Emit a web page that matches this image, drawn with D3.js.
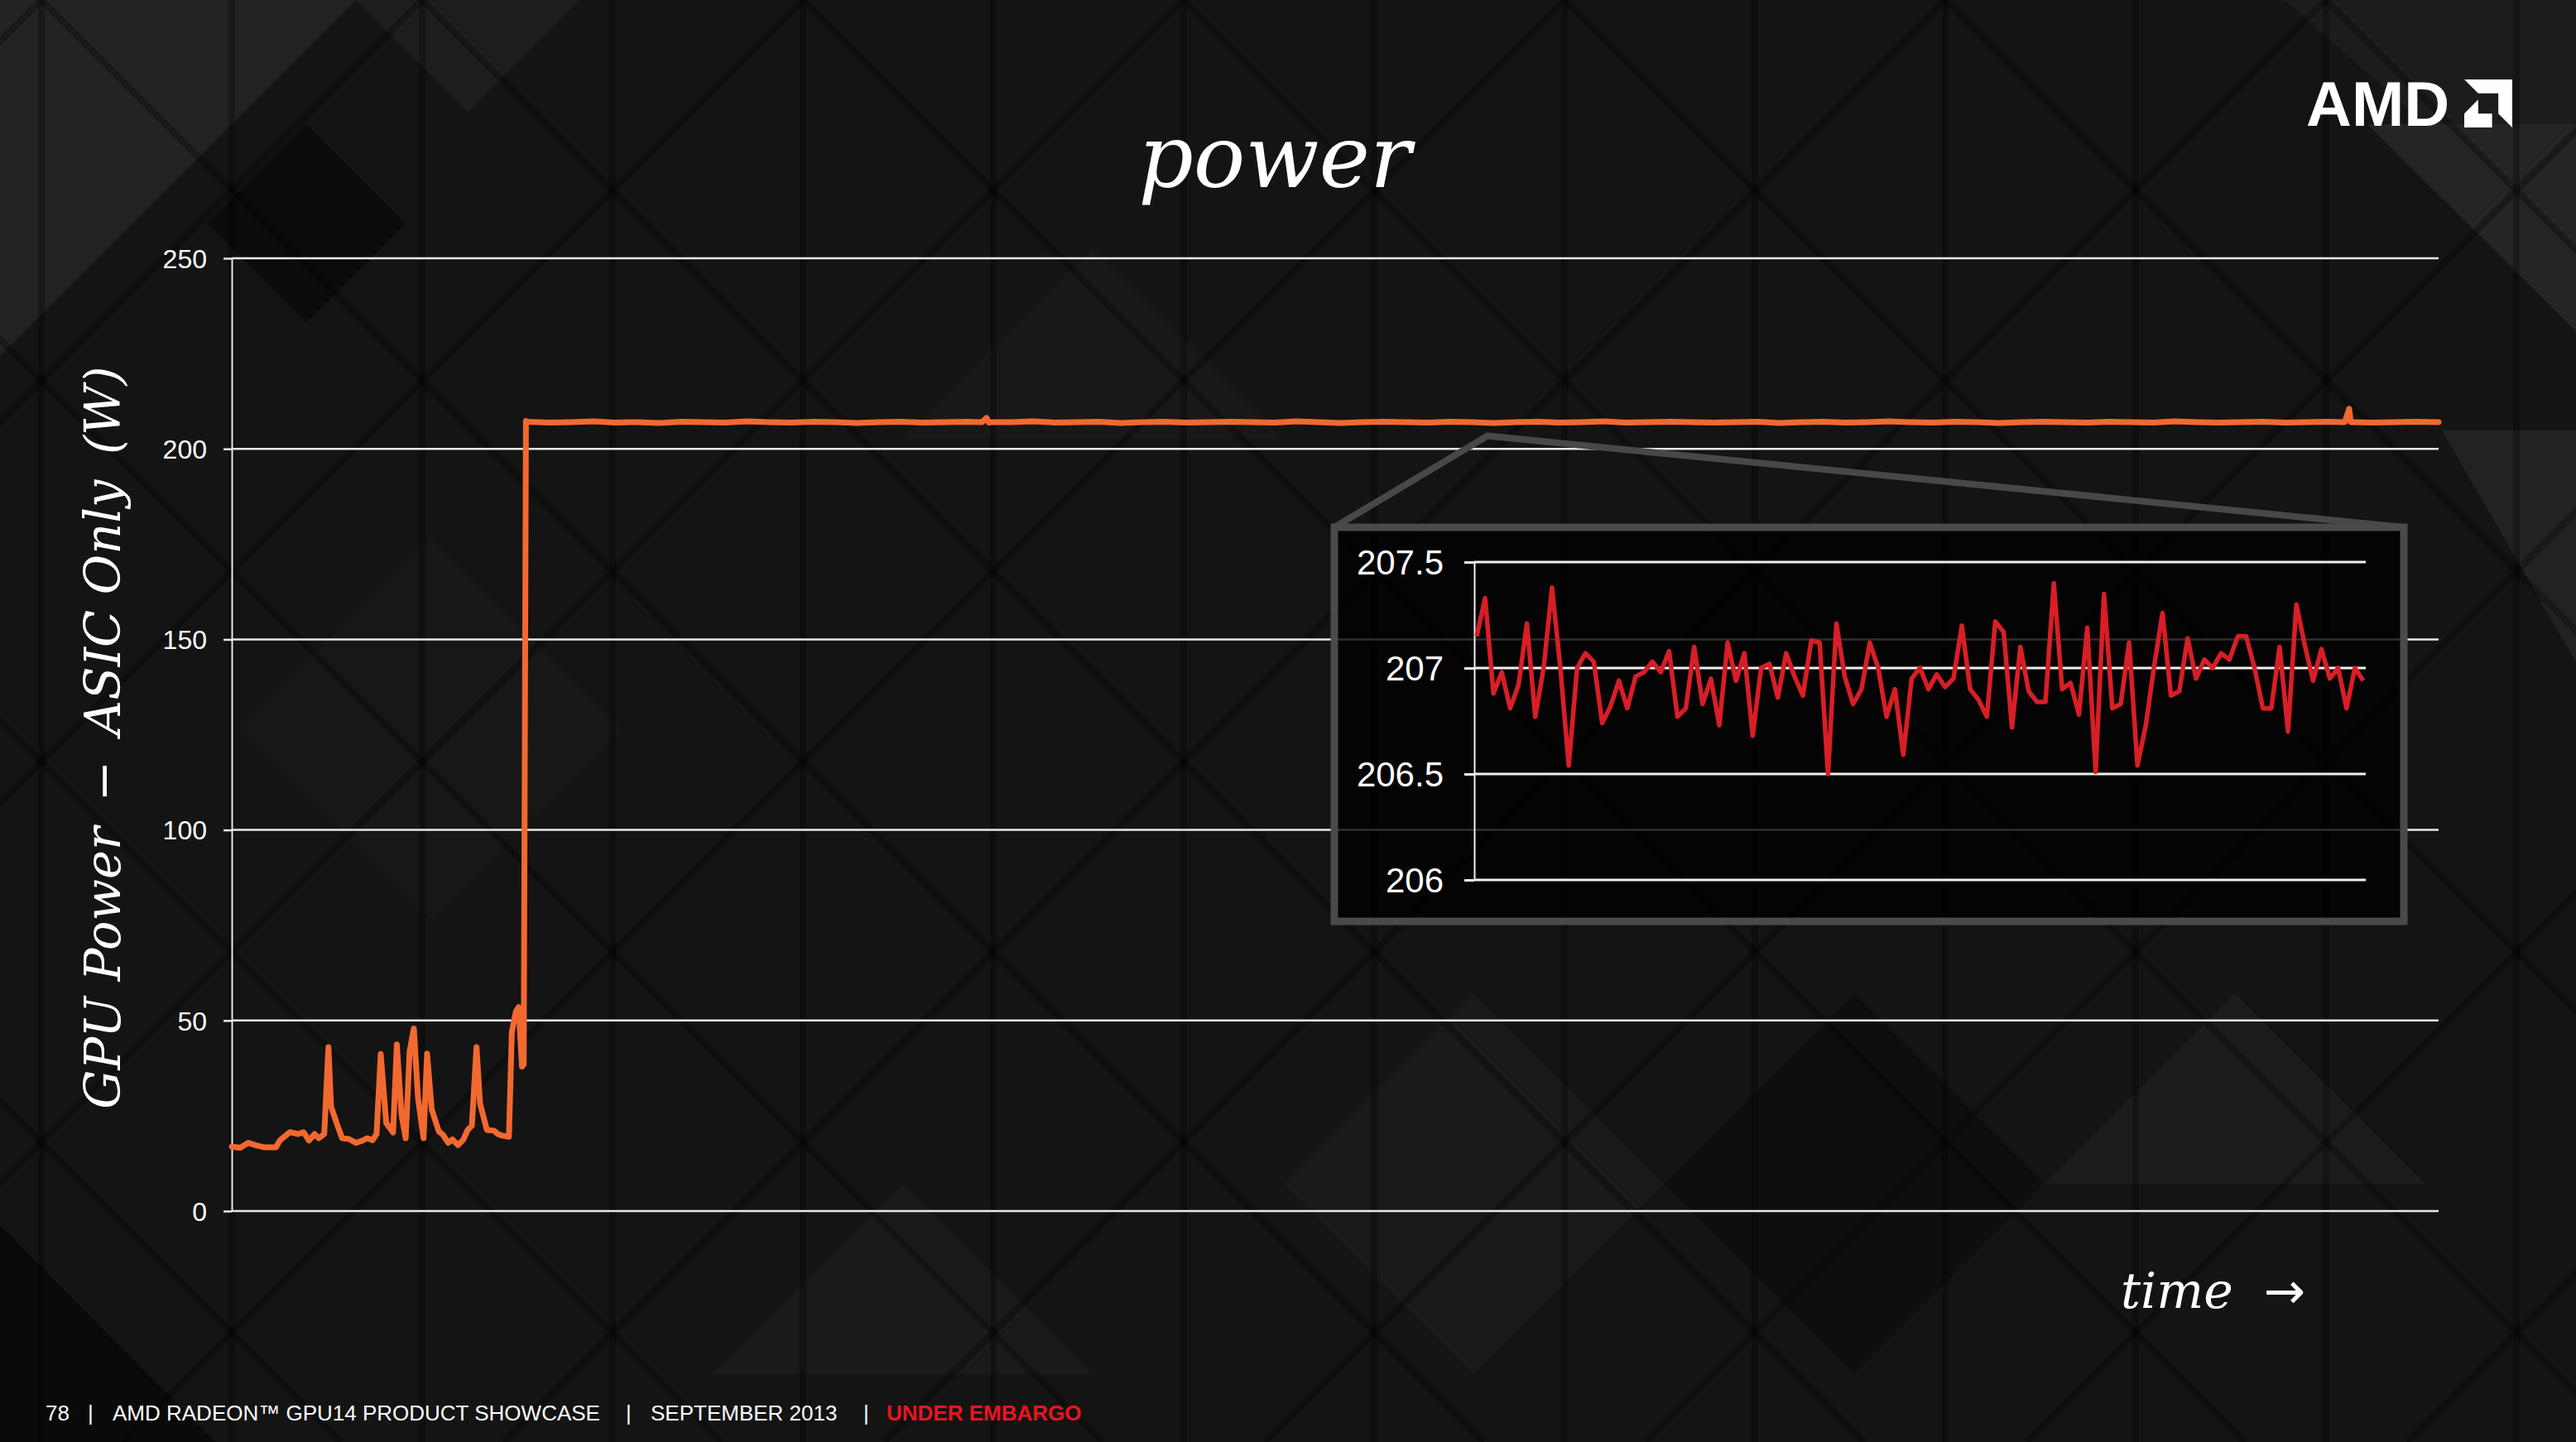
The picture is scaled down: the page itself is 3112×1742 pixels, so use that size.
<!DOCTYPE html>
<html><head><meta charset="utf-8">
<script src="https://cdn.jsdelivr.net/npm/d3@7"></script>
<style>html,body{margin:0;padding:0;background:#151515;overflow:hidden}</style>
</head><body><svg id="c"></svg>
<script>
// ---------------- data ----------------
const mainTicks = [0, 50, 100, 150, 200, 250];
const insetTicks = [206, 206.5, 207, 207.5];

// idle / low-power part (time in arbitrary units 0..1000)
const lowTime = [0, 3.8, 7.5, 11.3, 15, 20, 21.9, 26.3, 30, 32.5, 35, 37.5, 39.4, 41.9, 43.8, 45, 47.5, 50, 53.1, 56.3,
  58.8, 61.3, 63.8, 65.6, 67.5, 70, 73.1, 74.8, 76.9, 78.8, 80.6, 82.5, 84.4, 86.9, 88.5, 90.6, 93.8, 95.6, 98.1, 100,
  102.5, 105, 106.9, 108.8, 110.9, 112.5, 115.6, 118.8, 120.6, 122.5, 125.6, 126.9, 128.8, 130, 131.5, 132.3, 133.3];
const lowPower = [16.9, 16.6, 17.9, 17.2, 16.7, 16.7, 18.6, 20.7, 20.2, 20.7, 18.5, 20.2, 19.1, 20.2, 43.0, 27.4, 23.1, 19.1, 18.9, 17.9,
  18.4, 19.1, 18.6, 20.2, 41.2, 23.1, 20.6, 43.7, 25.3, 19.1, 41.9, 47.9, 29.6, 19.1, 41.3, 26.7, 20.9, 20.1, 17.9, 18.8,
  17.3, 18.8, 21.3, 22.4, 43.0, 28.2, 21.3, 21.1, 20.2, 19.8, 19.5, 47.0, 52.4, 53.5, 37.9, 38.5, 207.3];

// sustained load part (evenly spaced samples from t=134 to t=1000)
const flatPower = [
  207.1, 206.9, 207.0, 207.2, 206.9, 207.0, 206.8, 207.1, 207.0, 206.9,
  207.2, 207.0, 206.9, 207.1, 207.0, 206.8, 207.0, 207.1, 206.9, 207.0,
  207.1, 206.9, 207.0, 207.2, 206.9, 207.0, 207.1, 206.8, 207.0, 207.1,
  206.9, 207.0, 207.1, 207.0, 206.9, 207.2, 207.0, 206.8, 207.0, 207.1,
  207.0, 206.9, 207.1, 207.0, 206.8, 207.0, 207.1, 206.9, 207.0, 207.2,
  206.9, 207.0, 207.1, 207.0, 206.9, 207.0, 207.1, 206.8, 207.0, 207.1,
  206.9, 207.0, 207.2, 207.0, 206.9, 207.1, 207.0, 206.8, 207.0, 207.1,
  207.0, 206.9, 207.1, 207.0, 206.9, 207.2, 207.0, 206.9, 207.0, 207.1,
  206.9, 207.0, 207.1, 207.0, 206.9, 207.0, 207.1, 207.0];
const flatStart = 134, flatEnd = 1000;
// short transients on top of the sustained load
const bumpTime = [340, 342, 344.5, 957.5, 959.5, 961.5];
const bumpPower = [207.0, 208.1, 207.0, 207.0, 210.5, 207.0];

// zoomed detail (inset)
const insetPower = [
  207.15, 207.33, 206.88, 206.98, 206.81, 206.92, 207.21, 206.77, 207.00, 207.38,
  207.00, 206.54, 207.00, 207.07, 207.03, 206.74, 206.82, 206.94, 206.81, 206.96,
  206.98, 207.03, 206.98, 207.08, 206.77, 206.81, 207.10, 206.83, 206.95, 206.73,
  207.12, 206.94, 207.07, 206.68, 207.00, 207.02, 206.86, 207.07, 206.96, 206.87,
  207.13, 207.12, 206.50, 207.21, 206.96, 206.83, 206.90, 207.12, 207.00, 206.77,
  206.90, 206.59, 206.95, 207.00, 206.90, 206.97, 206.91, 206.95, 207.20, 206.90,
  206.85, 206.77, 207.22, 207.17, 206.72, 207.10, 206.89, 206.84, 206.84, 207.40,
  206.90, 206.93, 206.78, 207.19, 206.51, 207.35, 206.81, 206.83, 207.12, 206.54,
  206.73, 207.01, 207.26, 206.87, 206.89, 207.14, 206.95, 207.04, 207.00, 207.07,
  207.04, 207.15, 207.15, 207.00, 206.81, 206.81, 207.10, 206.70, 207.30, 207.11,
  206.94, 207.09, 206.95, 207.00, 206.81, 207.00, 206.94];

const titleText = "power";
const yLabelText = "GPU Power \u2009\u2212\u2009 ASIC Only \u2009(W)";
const xLabelText = "time";
const footerParts = ["78", "|", "AMD RADEON\u2122 GPU14 PRODUCT SHOWCASE", "|", "SEPTEMBER 2013", "|", "UNDER EMBARGO"];

// ---------------- drawing ----------------
const W = 3112, H = 1742;
const svg = d3.select("#c").attr("width", W).attr("height", H);
const SANS = "'Liberation Sans', Arial, sans-serif";
const SERIF = "'DejaVu Serif', serif";

// background
svg.append("rect").attr("width", W).attr("height", H).attr("fill", "#141414");
const deco = svg.append("g");
const patches = [
  {p: [[0,0],[430,0],[0,430]], f: "#232323"},
  {p: [[370,150],[490,270],[370,390],[250,270]], f: "#0b0b0b"},
  {p: [[430,0],[700,0],[565,135]], f: "#1e1e1e"},
  {p: [[2860,150],[3112,150],[3112,400]], f: "#252525"},
  {p: [[2760,0],[3112,0],[3112,150],[2930,150]], f: "#1c1c1c"},
  {p: [[2950,520],[3112,520],[3112,800]], f: "#222"},
  {p: [[0,1480],[260,1742],[0,1742]], f: "#0a0a0a"},
  {p: [[1780,1200],[2010,1430],[1780,1660],[1550,1430]], f: "#191919"},
  {p: [[2240,1200],[2470,1430],[2240,1660],[2010,1430]], f: "#0e0e0e"},
  {p: [[1090,1430],[1320,1660],[860,1660]], f: "#1a1a1a"},
  {p: [[2700,1200],[2930,1430],[2470,1430]], f: "#1c1c1c"},
  {p: [[1320,300],[1550,530],[1090,530]], f: "#181818"},
  {p: [[520,650],[750,880],[520,1110],[290,880]], f: "#171717"}
];
deco.selectAll("polygon").data(patches).join("polygon")
  .attr("points", d => d.p.map(q => q.join(",")).join(" "))
  .attr("fill", d => d.f);
const lat = deco.append("g").attr("stroke", "#000").attr("stroke-opacity", 0.28).attr("stroke-width", 8);
for (let k = 0; k <= 14; k++) lat.append("line").attr("x1", 50 + k * 230).attr("x2", 50 + k * 230).attr("y1", 0).attr("y2", H);
for (let k = -10; k <= 12; k++) {
  const c = k * 460 + 50;
  lat.append("line").attr("x1", c).attr("y1", 0).attr("x2", c + H).attr("y2", H);
  lat.append("line").attr("x1", c).attr("y1", 0).attr("x2", c - H).attr("y2", H);
}

// main scales
const x = d3.scaleLinear().domain([0, 1000]).range([280, 2946]);
const y = d3.scaleLinear().domain([0, 250]).range([1463, 312]);

// gridlines
svg.append("g").selectAll("line").data(mainTicks).join("line")
  .attr("x1", 280).attr("x2", 2946)
  .attr("y1", d => y(d)).attr("y2", d => y(d))
  .attr("stroke", "#e8e8e8").attr("stroke-width", 2.5);

// y axis
const yAxis = svg.append("g").attr("transform", "translate(280,0)")
  .call(d3.axisLeft(y).tickValues(mainTicks).tickSize(10).tickSizeOuter(0).tickPadding(20).tickFormat(d3.format("d")));
yAxis.select(".domain").attr("stroke", "#e8e8e8").attr("stroke-width", 2);
yAxis.selectAll(".tick line").attr("stroke", "#e8e8e8").attr("stroke-width", 2.5);
yAxis.selectAll(".tick text").attr("fill", "#ffffff").attr("font-family", SANS).attr("font-size", 32).attr("dy", "0.35em");

// main series
const mainPts = lowTime.map((t, i) => [t, lowPower[i]]);
const flatIdx = d3.scaleLinear().domain([0, flatPower.length - 1]).range([flatStart, flatEnd]);
const loadPts = flatPower.map((v, i) => [flatIdx(i), v]).concat(bumpTime.map((t, i) => [t, bumpPower[i]]));
loadPts.sort((a, b) => a[0] - b[0]);
const allPts = mainPts.concat(loadPts);

// inset connector + box
const insetBox = {x: 1612, y: 637, w: 1292, h: 476};
const anchor = [x(569), y(203.4)];
svg.append("polyline")
  .attr("points", [[insetBox.x, insetBox.y], anchor, [insetBox.x + insetBox.w, insetBox.y]].map(q => q.join(",")).join(" "))
  .attr("fill", "none").attr("stroke", "#484848").attr("stroke-width", 8).attr("stroke-linejoin", "round");
svg.append("rect").attr("x", insetBox.x).attr("y", insetBox.y).attr("width", insetBox.w).attr("height", insetBox.h)
  .attr("fill", "#000").attr("fill-opacity", 0.8)
  .attr("stroke", "#4a4a4a").attr("stroke-width", 9);

// inset chart
const ix = d3.scaleLinear().domain([0, insetPower.length - 1]).range([1784, 2855]);
const iy = d3.scaleLinear().domain([206, 207.5]).range([1063, 679]);
svg.append("g").selectAll("line").data(insetTicks).join("line")
  .attr("x1", 1781).attr("x2", 2858)
  .attr("y1", d => iy(d)).attr("y2", d => iy(d))
  .attr("stroke", "#efefef").attr("stroke-width", 3);
const iAxis = svg.append("g").attr("transform", "translate(1781,0)")
  .call(d3.axisLeft(iy).tickValues(insetTicks).tickSize(12).tickSizeOuter(0).tickPadding(25).tickFormat(d => String(d)));
iAxis.select(".domain").attr("stroke", "#efefef").attr("stroke-width", 2);
iAxis.selectAll(".tick line").attr("stroke", "#efefef").attr("stroke-width", 3);
iAxis.selectAll(".tick text").attr("fill", "#ffffff").attr("font-family", SANS).attr("font-size", 42).attr("dy", "0.35em");
svg.append("path").datum(insetPower)
  .attr("d", d3.line().x((d, i) => ix(i)).y(d => iy(d)))
  .attr("fill", "none").attr("stroke", "#d81e26").attr("stroke-width", 5.5).attr("stroke-linejoin", "round");

// main line on top
svg.append("path").datum(allPts)
  .attr("d", d3.line().x(d => x(d[0])).y(d => y(d[1])))
  .attr("fill", "none").attr("stroke", "#f26930").attr("stroke-width", 7)
  .attr("stroke-linejoin", "round").attr("stroke-linecap", "round");

// title
svg.append("text").attr("x", 1540).attr("y", 226).attr("text-anchor", "middle")
  .attr("font-family", SERIF).attr("font-style", "italic").attr("font-size", 104).attr("fill", "#fff").text(titleText);

// y label
svg.append("text").attr("transform", "translate(145,891) rotate(-90)").attr("text-anchor", "middle")
  .attr("font-family", SERIF).attr("font-style", "italic").attr("font-size", 59).attr("fill", "#fff")
  .style("white-space", "pre").text(yLabelText);

// x label
svg.append("text").attr("x", 2562).attr("y", 1580)
  .attr("font-family", SERIF).attr("font-style", "italic").attr("font-size", 60).attr("fill", "#fff").text(xLabelText);
svg.append("text").attr("x", 2735).attr("y", 1580)
  .attr("font-family", "'DejaVu Sans', sans-serif").attr("font-size", 60).attr("fill", "#fff").text("\u2192");

// footer
const footerX = [55, 106, 136, 756, 786, 1043, 1071];
const footer = svg.append("g").attr("font-family", SANS).attr("font-size", 26);
footer.selectAll("text").data(footerParts).join("text")
  .attr("x", (d, i) => footerX[i]).attr("y", 1716)
  .attr("fill", (d, i) => i === footerParts.length - 1 ? "#e8151f" : "#ffffff")
  .attr("font-weight", (d, i) => i === footerParts.length - 1 ? "bold" : "normal")
  .text(d => d);

// AMD logo
svg.append("text").attr("x", 2786).attr("y", 152)
  .attr("font-family", SANS).attr("font-weight", "bold").attr("font-size", 76).attr("fill", "#fff").text("AMD");
const logo = svg.append("g").attr("transform", "translate(2977,96) scale(58)");
const piece1 = [[0,0],[1,0],[1,1],[0.71,0.71],[0.71,0.29],[0.29,0.29]];
const piece2 = [[0.29,0.42],[0.29,0.71],[0.58,0.71],[0.58,1],[0,1],[0,0.71]];
logo.selectAll("polygon").data([piece1, piece2]).join("polygon")
  .attr("points", d => d.map(q => q.join(",")).join(" ")).attr("fill", "#fff");
</script></body></html>
